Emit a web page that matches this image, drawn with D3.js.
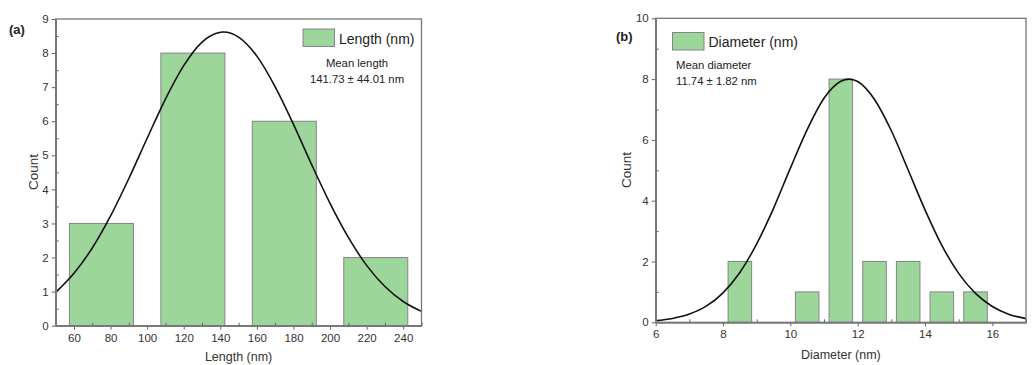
<!DOCTYPE html>
<html>
<head>
<meta charset="utf-8">
<script src="https://cdn.jsdelivr.net/npm/d3@7"></script>
<style>
  html, body { margin: 0; padding: 0; background: #fff; }
  svg { display: block; font-family: "Liberation Sans", Arial, sans-serif; }
</style>
</head>
<body>
<svg id="chart" width="1034" height="365"></svg>
<script>
// ---------- Panel (a): Length ----------
const lengthBinCenters = [75, 125, 175, 225];
const lengthCounts = [3, 8, 6, 2];
const lengthBinWidth = 50;
const lengthFitX = [50, 60, 70, 80, 90, 100, 110, 120, 130, 140, 141.73, 150, 160, 170, 180, 190, 200, 210, 220, 230, 240, 250];
const lengthFitY = [0.98, 1.54, 2.28, 3.22, 4.32, 5.50, 6.65, 7.63, 8.32, 8.61, 8.62, 8.47, 7.91, 7.01, 5.91, 4.72, 3.59, 2.59, 1.77, 1.15, 0.71, 0.42];
const lengthXTicks = [60, 80, 100, 120, 140, 160, 180, 200, 220, 240];
const lengthXMinor = [50, 70, 90, 110, 130, 150, 170, 190, 210, 230, 250];
const lengthYTicks = [0, 1, 2, 3, 4, 5, 6, 7, 8, 9];
const lengthYMinor = [0.5, 1.5, 2.5, 3.5, 4.5, 5.5, 6.5, 7.5, 8.5];

// ---------- Panel (b): Diameter ----------
const diamBinCenters = [8.5, 10.5, 11.5, 12.5, 13.5, 14.5, 15.5];
const diamCounts = [2, 1, 8, 2, 2, 1, 1];
const diamBinWidth = 1;
const diamFitX = [6, 6.5, 7, 7.5, 8, 8.5, 9, 9.5, 10, 10.5, 11, 11.5, 11.74, 12, 12.5, 13, 13.5, 14, 14.5, 15, 15.5, 16, 16.5, 17];
const diamFitY = [0.055, 0.127, 0.27, 0.53, 0.97, 1.64, 2.58, 3.75, 5.07, 6.34, 7.37, 7.93, 8.0, 7.92, 7.33, 6.30, 5.01, 3.70, 2.53, 1.61, 0.95, 0.52, 0.26, 0.12];
const diamXTicks = [6, 8, 10, 12, 14, 16];
const diamXMinor = [7, 9, 11, 13, 15, 17];
const diamYTicks = [0, 2, 4, 6, 8, 10];
const diamYMinor = [1, 3, 5, 7, 9];

const barFraction = 0.7;

const svg = d3.select("#chart");

function panel(cfg) {
  const x = d3.scaleLinear().domain(cfg.xDomain).range(cfg.xRange);
  const y = d3.scaleLinear().domain(cfg.yDomain).range(cfg.yRange);
  const g = svg.append("g");

  // bars
  g.selectAll("rect.bar")
    .data(cfg.centers.map((c, i) => ({ c, v: cfg.counts[i] })))
    .enter().append("rect")
    .attr("class", "bar")
    .attr("x", d => x(d.c - cfg.binWidth * barFraction / 2))
    .attr("width", d => x(d.c + cfg.binWidth * barFraction / 2) - x(d.c - cfg.binWidth * barFraction / 2))
    .attr("y", d => y(d.v))
    .attr("height", d => y(0) - y(d.v))
    .attr("fill", "#9dd69a")
    .attr("stroke", "#858585")
    .attr("stroke-width", 1);

  // fit curve
  const line = d3.line()
    .x(d => x(d[0]))
    .y(d => y(d[1]))
    .curve(d3.curveMonotoneX);
  g.append("path")
    .datum(cfg.fitX.map((v, i) => [v, cfg.fitY[i]]))
    .attr("d", line)
    .attr("fill", "none")
    .attr("stroke", "#111")
    .attr("stroke-width", 1.6);

  // frame
  const x0 = cfg.xRange[0], x1 = cfg.xRange[1], y0 = cfg.yRange[0], y1 = cfg.yRange[1];
  g.append("rect")
    .attr("x", x0).attr("y", y1)
    .attr("width", x1 - x0).attr("height", y0 - y1)
    .attr("fill", "none").attr("stroke", "#777").attr("stroke-width", 1.3);

  // x axis major
  const xAxis = g.append("g").attr("transform", `translate(0,${y0})`)
    .call(d3.axisBottom(x).tickValues(cfg.xTicks).tickSizeInner(4).tickSizeOuter(0).tickPadding(4).tickFormat(d3.format("d")));
  // x axis minor
  const xMinor = g.append("g").attr("transform", `translate(0,${y0})`)
    .call(d3.axisBottom(x).tickValues(cfg.xMinor).tickSizeInner(-3).tickSizeOuter(0).tickFormat(""));
  // y axis major
  const yAxis = g.append("g").attr("transform", `translate(${x0},0)`)
    .call(d3.axisLeft(y).tickValues(cfg.yTicks).tickSizeInner(4).tickSizeOuter(0).tickPadding(3).tickFormat(d3.format("d")));
  const yMinor = g.append("g").attr("transform", `translate(${x0},0)`)
    .call(d3.axisLeft(y).tickValues(cfg.yMinor).tickSizeInner(-3).tickSizeOuter(0).tickFormat(""));

  [xAxis, xMinor, yAxis, yMinor].forEach(a => {
    a.select(".domain").attr("stroke", "#777").attr("stroke-width", 1.3);
    a.selectAll(".tick line").attr("stroke", "#666").attr("stroke-width", 1);
    a.selectAll(".tick text").attr("fill", "#333").attr("font-size", "11.5px")
      .attr("font-family", "'Liberation Sans', Arial, sans-serif");
  });

  // axis titles
  g.append("text")
    .attr("x", (x0 + x1) / 2 + cfg.xTitleDx).attr("y", cfg.xTitleY)
    .attr("text-anchor", "middle").attr("font-size", "12.5px").attr("fill", "#333")
    .text(cfg.xTitle);
  g.append("text")
    .attr("transform", `translate(${cfg.yTitleX},${cfg.yTitleCY}) rotate(-90)`)
    .attr("text-anchor", "middle").attr("font-size", "13.5px").attr("fill", "#333")
    .text("Count");

  // panel label
  g.append("text")
    .attr("x", cfg.labelX).attr("y", cfg.labelY)
    .attr("font-size", "13px").attr("font-weight", "bold").attr("fill", "#222")
    .text(cfg.label);

  // legend
  g.append("rect")
    .attr("x", cfg.legX).attr("y", cfg.legY)
    .attr("width", 31.5).attr("height", 17.5)
    .attr("fill", "#9dd69a").attr("stroke", "#858585").attr("stroke-width", 1);
  g.append("text")
    .attr("x", cfg.legX + 36).attr("y", cfg.legY + 14.5)
    .attr("font-size", "14px").attr("fill", "#222")
    .text(cfg.legText);

  // mean annotation
  cfg.notes.forEach((t, i) => {
    g.append("text")
      .attr("x", cfg.noteX).attr("y", cfg.noteY + i * 16)
      .attr("text-anchor", cfg.noteAnchor)
      .attr("font-size", "11.3px").attr("fill", "#222")
      .text(t);
  });
}

panel({
  xDomain: [50, 250], xRange: [55.7, 421.5],
  yDomain: [0, 9], yRange: [325.7, 19],
  centers: lengthBinCenters, counts: lengthCounts, binWidth: lengthBinWidth,
  fitX: lengthFitX, fitY: lengthFitY,
  xTicks: lengthXTicks, xMinor: lengthXMinor, yTicks: lengthYTicks, yMinor: lengthYMinor,
  xTitle: "Length (nm)", xTitleY: 360.5, xTitleDx: 0,
  yTitleX: 38, yTitleCY: 172,
  label: "(a)", labelX: 9, labelY: 34,
  legX: 303, legY: 29, legText: "Length (nm)",
  notes: ["Mean length", "141.73 \u00b1 44.01 nm"], noteX: 357, noteY: 67, noteAnchor: "middle"
});

panel({
  xDomain: [6, 17], xRange: [655.7, 1026],
  yDomain: [0, 10], yRange: [322.3, 18.3],
  centers: diamBinCenters, counts: diamCounts, binWidth: diamBinWidth,
  fitX: diamFitX, fitY: diamFitY,
  xTicks: diamXTicks, xMinor: diamXMinor, yTicks: diamYTicks, yMinor: diamYMinor,
  xTitle: "Diameter (nm)", xTitleY: 359, xTitleDx: 0,
  yTitleX: 631, yTitleCY: 170,
  label: "(b)", labelX: 616, labelY: 40.5,
  legX: 672.5, legY: 32.5, legText: "Diameter (nm)",
  notes: ["Mean diameter", "11.74 \u00b1 1.82 nm"], noteX: 676, noteY: 68.5, noteAnchor: "start"
});
</script>
</body>
</html>
